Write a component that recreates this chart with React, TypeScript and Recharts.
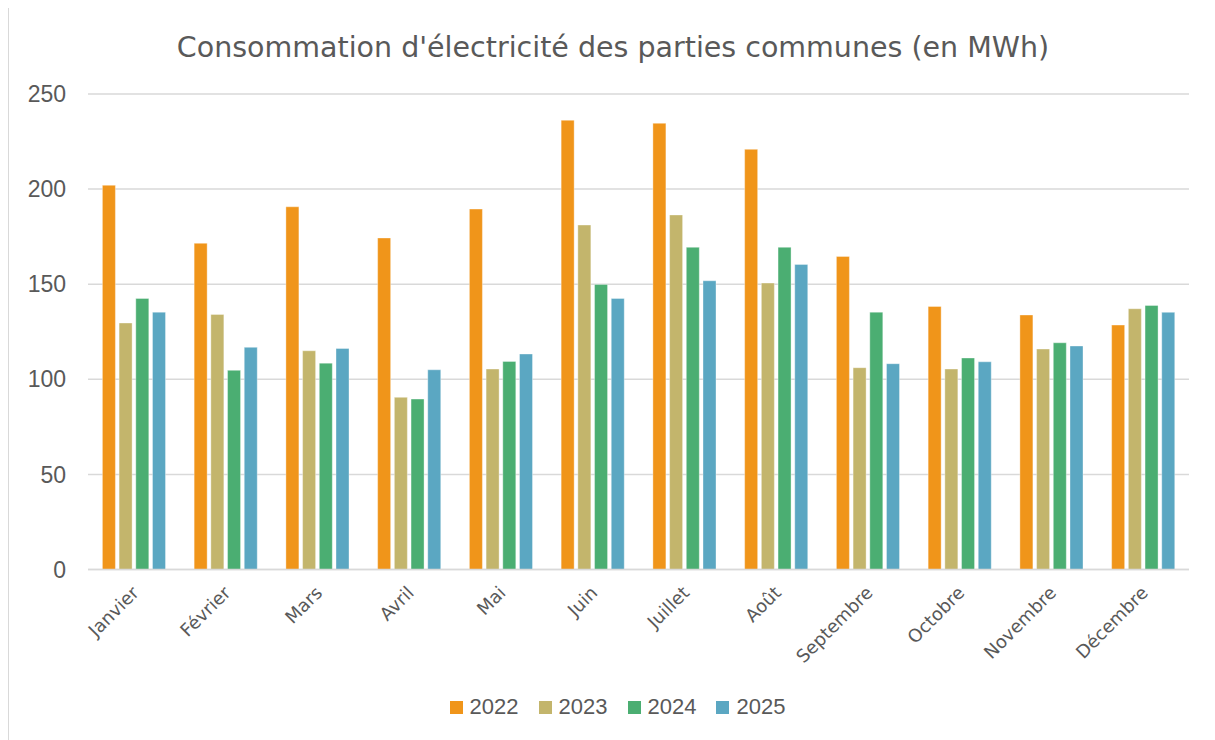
import React from 'react';
import { BarChart, Bar, XAxis, YAxis, CartesianGrid, Legend } from 'recharts';

const months = ['Janvier', 'Février', 'Mars', 'Avril', 'Mai', 'Juin', 'Juillet', 'Août', 'Septembre', 'Octobre', 'Novembre', 'Décembre'];
const v2022 = [202, 171.5, 190.7, 174.3, 189.5, 236.2, 234.6, 220.9, 164.6, 138.3, 133.8, 128.5];
const v2023 = [129.6, 134.1, 115.0, 90.5, 105.4, 181.1, 186.4, 150.6, 106.1, 105.4, 115.9, 137.1];
const v2024 = [142.5, 104.7, 108.5, 89.6, 109.4, 149.9, 169.4, 169.4, 135.3, 111.2, 119.2, 138.8];
const v2025 = [135.3, 116.8, 116.2, 105.0, 113.3, 142.5, 151.8, 160.4, 108.2, 109.2, 117.5, 135.2];
const yTicks = [0, 50, 100, 150, 200, 250];
const seriesNames = ['2022', '2023', '2024', '2025'];
const seriesColors = ['#f0951a', '#c3b56c', '#4bae72', '#5ba7c2'];

const data = months.map((m, i) => ({
  month: m,
  '2022': v2022[i],
  '2023': v2023[i],
  '2024': v2024[i],
  '2025': v2025[i],
}));

const TEXT = '#595959';
const GRID = '#d9d9d9';

const MonthTick = (props: any) => {
  const { x, payload } = props;
  return (
    <g transform={`translate(${x + 6},${588})`}>
      <text
        textAnchor="end"
        transform="rotate(-45)"
        fill={TEXT}
        fontFamily="DejaVu Sans"
        fontSize={18}
      >
        {payload.value}
      </text>
    </g>
  );
};

const LegendContent = (props: any) => {
  const { payload } = props;
  return (
    <div style={{ display: 'flex', justifyContent: 'center', alignItems: 'center', height: 30, paddingLeft: 11 }}>
      {(payload || []).map((p: any, i: number) => (
        <div key={p.value} style={{ display: 'flex', alignItems: 'center', marginLeft: i === 0 ? 0 : 20 }}>
          <span style={{ display: 'inline-block', width: 13, height: 13, background: p.color, marginRight: 7 }} />
          <span style={{ fontFamily: 'Liberation Sans', fontSize: 22, color: TEXT, lineHeight: '30px' }}>{p.value}</span>
        </div>
      ))}
    </div>
  );
};

export default function App() {
  return (
    <div
      style={{
        position: 'relative',
        marginTop: -3,
        width: 1207,
        height: 735,
        borderTop: `1px solid ${GRID}`,
        borderLeft: `1px solid ${GRID}`,
        boxSizing: 'border-box',
        background: '#fff',
        overflow: 'hidden',
      }}
    >
      <div
        style={{
          position: 'absolute',
          top: 25.5,
          left: 0,
          width: 1206,
          textAlign: 'center',
          fontFamily: 'DejaVu Sans',
          fontSize: 28.5,
          lineHeight: '31px',
          color: TEXT,
          paddingLeft: 2,
          boxSizing: 'border-box',
          zIndex: 2,
        }}
      >
        Consommation d'électricité des parties communes (en MWh)
      </div>
      <BarChart
        width={1206}
        height={734}
        data={data}
        margin={{ top: 88, right: 26, left: 19, bottom: 18 }}
        barCategoryGap={14.4}
        barGap={3.7}
      >
        <CartesianGrid vertical={false} stroke={GRID} strokeWidth={1.5} />
        <XAxis
          dataKey="month"
          interval={0}
          height={122.5}
          tickLine={false}
          axisLine={{ stroke: GRID, strokeWidth: 1.5 }}
          tick={<MonthTick />}
        />
        <YAxis
          domain={[0, 250]}
          ticks={yTicks}
          width={60}
          tickLine={false}
          axisLine={false}
          tickSize={6}
          tickMargin={16}
          tick={{ fill: TEXT, fontFamily: 'Liberation Sans', fontSize: 23 }}
        />
        <Legend verticalAlign="bottom" wrapperStyle={{ left: 0, width: 1206 }} content={<LegendContent />} />
        {seriesNames.map((s, i) => (
          <Bar
            key={s}
            dataKey={s}
            name={s}
            fill={seriesColors[i]}
            stroke="#ffffff"
            strokeWidth={0.6}
            strokeOpacity={0.6}
            isAnimationActive={false}
          />
        ))}
      </BarChart>
    </div>
  );
}
